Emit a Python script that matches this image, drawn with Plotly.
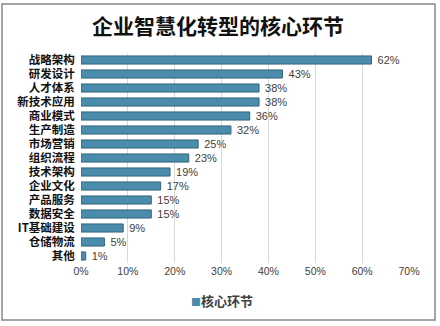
import plotly.graph_objects as go

categories = ["战略架构", "研发设计", "人才体系", "新技术应用", "商业模式", "生产制造",
              "市场营销", "组织流程", "技术架构", "企业文化", "产品服务", "数据安全",
              "IT基础建设", "仓储物流", "其他"]
values = [62, 43, 38, 38, 36, 32, 25, 23, 19, 17, 15, 15, 9, 5, 1]
tick_vals = [0, 10, 20, 30, 40, 50, 60, 70]
tick_text = ["0%", "10%", "20%", "30%", "40%", "50%", "60%", "70%"]
series_name = "核心环节"

W, H = 440, 326
L, R, T, B = 81, 31, 53, 63
pw, ph = W - L - R, H - T - B

def px_x(x):
    return (x - L) / pw

def px_y(y):
    return (H - B - y) / ph

fig = go.Figure()
fig.add_trace(go.Bar(
    y=categories, x=values, orientation="h", name=series_name,
    marker=dict(color="#4a8cac", line=dict(color="#34657b", width=1)),
    text=[f"\u00a0{v}%" for v in values], textposition="outside",
    constraintext="none",
    textfont=dict(size=11, color="#404040", family="Liberation Sans, Arial"),
    cliponaxis=False,
))

fig.update_layout(
    width=W, height=H,
    margin=dict(l=L, r=R, t=T, b=B),
    paper_bgcolor="white", plot_bgcolor="white",
    bargap=0.42,
    title=dict(text="<b>企业智慧化转型的核心环节</b>", x=px_x(218), xanchor="center", xref="paper",
               y=1 - 27 / H, yanchor="middle",
               font=dict(size=21, color="#111111", family="Noto Sans CJK SC")),
    xaxis=dict(range=[0, 70], tickvals=tick_vals, ticktext=tick_text,
               showgrid=True, gridcolor="#d9d9d9", gridwidth=1, zeroline=False,
               showline=False, ticks="", ticklen=0,
               tickfont=dict(size=10.5, color="#404040", family="Liberation Sans, Arial")),
    yaxis=dict(autorange="reversed", showgrid=False, showline=False, ticks="",
               tickfont=dict(size=11.5, color="#111111", family="Noto Sans CJK SC")),
    showlegend=False,
    annotations=[
        dict(xref="paper", yref="paper", x=px_x(189), y=px_y(300), xanchor="left", yanchor="middle",
             text="<span style='color:#4a8cac;font-size:10px'>■</span><b>" + series_name + "</b>",
             showarrow=False, font=dict(size=13, color="#404040", family="Noto Sans CJK SC")),
    ],
    shapes=[dict(type="rect", xref="paper", yref="paper",
                 x0=px_x(2), x1=px_x(435), y0=px_y(320), y1=px_y(4),
                 line=dict(color="#888888", width=1.5), layer="below")],
    font=dict(family="Noto Sans CJK SC"),
)
fig.update_yaxes(tickprefix="<b>", ticksuffix="</b>  ")

fig.write_html("out.html")
